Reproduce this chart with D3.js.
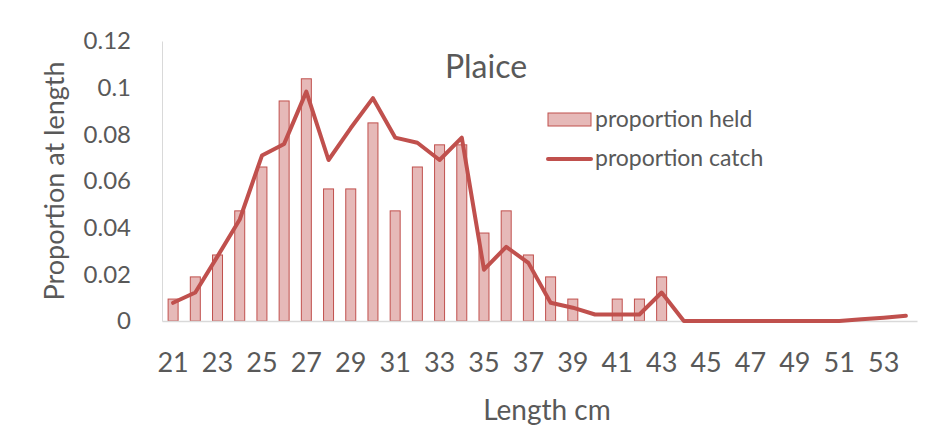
<!DOCTYPE html>
<html>
<head>
<meta charset="utf-8">
<script src="https://cdn.jsdelivr.net/npm/d3@7"></script>
<style>
  body { margin: 0; background: #fff; }
  text { font-family: Lato, "Open Sans", sans-serif; fill: #595959; }
</style>
</head>
<body>
<script>
// chart data: length classes and the two proportion series
var lengths = d3.range(21, 55);
var held = [0.0094, 0.0189, 0.0283, 0.0472, 0.066, 0.0943, 0.1038, 0.0566, 0.0566, 0.0849,
            0.0472, 0.066, 0.0755, 0.0755, 0.0377, 0.0472, 0.0283, 0.0189, 0.0094, 0,
            0.0094, 0.0094, 0.0189, 0, 0, 0, 0, 0, 0, 0, 0, 0, 0, 0];
var catchP = [0.0078, 0.0122, 0.0277, 0.0435, 0.0709, 0.0759, 0.0983, 0.069, 0.0827, 0.0955,
              0.0786, 0.0764, 0.069, 0.0786, 0.022, 0.0318, 0.0249, 0.0078, 0.0057, 0.0028,
              0.0028, 0.0028, 0.0122, 0, 0, 0, 0, 0, 0, 0, 0, 0.0007, 0.0014, 0.0022];
var yTicks = [0, 0.02, 0.04, 0.06, 0.08, 0.1, 0.12];

var width = 932, height = 448;
var margin = {top: 41, right: 15, bottom: 127, left: 162};
var w = width - margin.left - margin.right,
    h = height - margin.top - margin.bottom;

var svg = d3.select("body").append("svg")
  .attr("width", width)
  .attr("height", height);

var g = svg.append("g")
  .attr("transform", "translate(" + margin.left + "," + margin.top + ")");

var x = d3.scaleBand().domain(lengths).range([0, w]).paddingInner(0.55).paddingOuter(0.275);
var xc = function(d) { return x(d) + x.bandwidth() / 2; };
var y = d3.scaleLinear().domain([0, 0.12]).range([h, 0]);

// bars: proportion held
g.selectAll("rect.bar").data(lengths)
  .enter().append("rect")
  .attr("class", "bar")
  .attr("x", function(d) { return x(d); })
  .attr("width", x.bandwidth())
  .attr("y", function(d, i) { return y(held[i]); })
  .attr("height", function(d, i) { return h - y(held[i]); })
  .attr("fill", "#E6B9B8")
  .attr("stroke", "#C0504D")
  .attr("stroke-width", 1)
  .style("display", function(d, i) { return held[i] > 0 ? null : "none"; });

// axes
var xAxis = g.append("g")
  .attr("transform", "translate(0," + h + ")")
  .call(d3.axisBottom(x).tickSize(0).tickPadding(32)
    .tickValues(lengths.filter(function(d) { return d % 2 == 1; })));
xAxis.select(".domain").attr("stroke", "#D9D9D9").attr("stroke-width", 1.5);
xAxis.selectAll("text").style("font-size", "27px");

var yAxis = g.append("g")
  .call(d3.axisLeft(y).tickValues(yTicks).tickSize(0).tickPadding(31)
    .tickFormat(function(d) { return d3.format("")(+d.toFixed(2)); }));
yAxis.select(".domain").attr("stroke", "#D9D9D9").attr("stroke-width", 1);
yAxis.selectAll("text").style("font-size", "24px");

// line: proportion catch
var line = d3.line()
  .x(function(d) { return xc(d); })
  .y(function(d, i) { return y(catchP[i]); });

g.append("path")
  .datum(lengths)
  .attr("d", line)
  .attr("fill", "none")
  .attr("stroke", "#C0504D")
  .attr("stroke-width", 4)
  .attr("stroke-linejoin", "round")
  .attr("stroke-linecap", "round");

// title
svg.append("text")
  .attr("x", 486).attr("y", 78)
  .attr("text-anchor", "middle")
  .style("font-size", "32px")
  .text("Plaice");

// axis labels
svg.append("text")
  .attr("x", 547).attr("y", 420)
  .attr("text-anchor", "middle")
  .style("font-size", "28px")
  .text("Length cm");

svg.append("text")
  .attr("transform", "translate(64,181) rotate(-90)")
  .attr("text-anchor", "middle")
  .style("font-size", "27px")
  .text("Proportion at length");

// legend
var lg = svg.append("g");
lg.append("rect")
  .attr("x", 548).attr("y", 113).attr("width", 43).attr("height", 13)
  .attr("fill", "#E6B9B8").attr("stroke", "#C0504D");
lg.append("text")
  .attr("x", 595).attr("y", 127)
  .style("font-size", "23px")
  .text("proportion held");
lg.append("line")
  .attr("x1", 548).attr("x2", 591).attr("y1", 159).attr("y2", 159)
  .attr("stroke", "#C0504D").attr("stroke-width", 4).attr("stroke-linecap", "round");
lg.append("text")
  .attr("x", 595).attr("y", 166)
  .style("font-size", "23px")
  .text("proportion catch");
</script>
</body>
</html>
